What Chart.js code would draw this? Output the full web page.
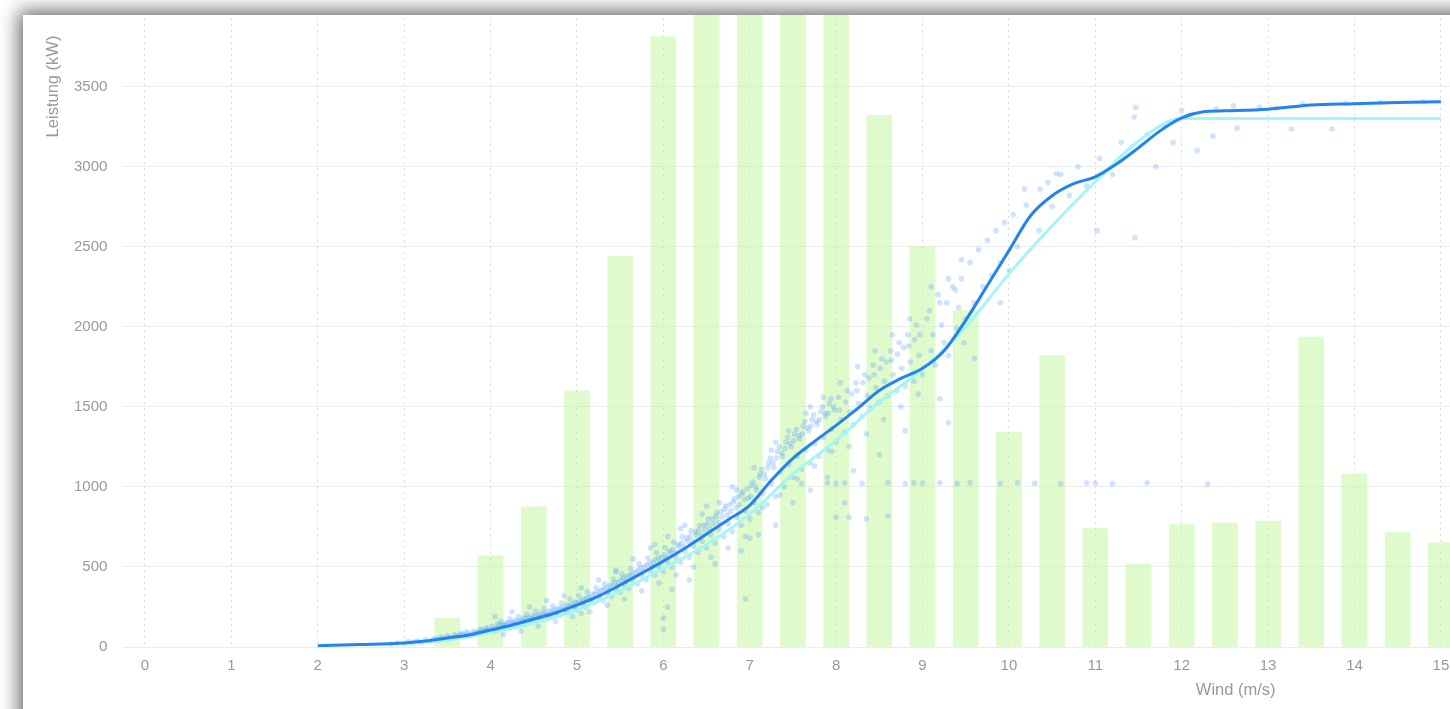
<!DOCTYPE html>
<html>
<head>
<meta charset="utf-8">
<script src="https://cdn.jsdelivr.net/npm/chart.js"></script>
<style>
  html, body { margin: 0; padding: 0; background: #fff; overflow: hidden; }
  body { width: 1450px; height: 709px; position: relative; }
  #card {
    position: absolute; left: 23px; top: 15px; width: 1500px; height: 760px;
    background: #fff; overflow: hidden;
    box-shadow: 0 0 18px 4px rgba(0,0,0,0.6);
  }
  #powerCurve { position: absolute; left: 0; top: -514px; }
</style>
</head>
<body>
<div id="card"><canvas id="powerCurve" width="2335" height="1213"></canvas></div>
<script>
// wind speed bins (m/s) and frequency bars
const barWind  = [3.5, 4, 4.5, 5, 5.5, 6, 6.5, 7, 7.5, 8, 8.5, 9, 9.5, 10, 10.5, 11, 11.5, 12, 12.5, 13, 13.5, 14, 14.5, 15];
const barValue = [180, 570, 875, 1600, 2440, 3810, 4700, 5600, 5200, 4400, 3320, 2500, 2100, 1340, 1820, 740, 520, 765, 775, 785, 1935, 1080, 715, 650];

// measured power curve (dark blue)
const curveWind  = [2, 2.5, 3, 3.25, 3.5, 3.75, 4, 4.25, 4.5, 4.75, 5, 5.25, 5.5, 5.75, 6, 6.25, 6.5, 6.75, 7, 7.25, 7.5, 7.75, 8, 8.25, 8.5, 8.75, 9, 9.25, 9.5, 9.75, 10, 10.25, 10.5, 10.75, 11, 11.25, 11.5, 11.75, 12, 12.25, 12.5, 13, 13.5, 14, 14.5, 15];
const curvePower = [8, 15, 25, 37, 56, 75, 106, 137, 175, 212, 262, 318, 387, 461, 536, 617, 705, 795, 885, 1041, 1178, 1284, 1384, 1490, 1602, 1677, 1740, 1850, 2040, 2257, 2475, 2693, 2818, 2893, 2936, 3017, 3117, 3223, 3304, 3342, 3348, 3358, 3385, 3393, 3400, 3404];

// reference power curve (cyan)
const refWind  = [3, 3.5, 4, 4.5, 5, 5.5, 6, 6.5, 7, 7.5, 8, 8.5, 9, 9.5, 10, 10.5, 11, 11.5, 12, 12.5, 13, 14, 15];
const refPower = [20, 45, 90, 150, 230, 350, 490, 640, 830, 1080, 1290, 1530, 1735, 2000, 2330, 2630, 2905, 3160, 3300, 3300, 3300, 3300, 3300];

// 10-minute samples [wind, power]
const samples = [
  [2.85,18],[2.92,24],[3.0,20],[3.05,32],[3.1,26],[3.15,38],[3.2,30],[3.25,45],[3.3,36],[3.35,52],[3.4,44],[3.42,60],[3.48,50],[3.5,70],[3.55,55],[3.58,78],[3.62,62],[3.66,85],[3.7,70],[3.72,95],[3.78,78],[3.8,100],[3.85,88],[3.88,112],[3.92,92],[3.95,120],[3.98,100],
  [4.02,130],[4.05,98],[4.08,145],[4.1,112],[4.12,160],[4.15,125],[4.18,150],[4.2,118],[4.22,175],[4.25,140],[4.28,165],[4.3,128],[4.32,190],[4.35,150],[4.38,180],[4.4,142],[4.42,205],[4.45,165],[4.48,195],[4.5,158],[4.52,225],[4.55,180],[4.58,210],[4.6,170],[4.62,240],[4.65,195],[4.68,225],[4.7,185],[4.72,255],[4.75,205],[4.78,240],[4.8,200],[4.82,275],[4.85,230],[4.88,262],[4.9,215],[4.92,300],[4.95,250],[4.98,280],
  [5.0,235],[5.02,320],[5.05,270],[5.08,300],[5.1,250],[5.12,345],[5.15,290],[5.18,330],[5.2,275],[5.22,370],[5.25,310],[5.28,355],[5.3,290],[5.32,395],[5.35,335],[5.38,380],[5.4,315],[5.42,425],[5.45,360],[5.48,405],[5.5,340],[5.52,455],[5.55,385],[5.58,440],[5.6,365],[5.62,490],[5.65,415],[5.68,470],[5.7,395],[5.72,520],[5.75,445],[5.78,500],[5.8,420],[5.82,555],[5.85,470],[5.88,530],[5.9,450],[5.92,590],[5.95,500],[5.98,560],
  [6.0,470],[6.02,620],[6.05,530],[6.08,590],[6.1,500],[6.12,655],[6.15,560],[6.18,625],[6.2,530],[6.22,690],[6.25,595],[6.28,660],[6.3,560],[6.32,725],[6.35,630],[6.38,700],[6.4,590],[6.42,760],[6.45,660],[6.48,735],[6.5,620],[6.52,800],[6.55,700],[6.58,770],[6.6,650],[6.62,840],[6.65,735],[6.68,810],[6.7,690],[6.72,880],[6.75,770],[6.78,850],[6.8,720],[6.82,925],[6.85,810],[6.88,890],[6.9,760],[6.92,970],[6.95,850],[6.98,930],
  [6.1,360],[6.3,420],[6.6,520],[6.9,600],[6.05,250],[6.95,300],[6.0,180],[6.0,110],
  [7.0,800],[7.02,1010],[7.05,900],[7.08,980],[7.1,840],[7.12,1080],[7.15,960],[7.18,1050],[7.2,890],[7.22,1150],[7.25,1020],[7.28,1120],[7.3,940],[7.32,1220],[7.35,1090],[7.38,1190],[7.4,1000],[7.42,1280],[7.45,1140],[7.48,1250],[7.5,1060],[7.52,1330],[7.55,1190],[7.58,1300],[7.6,1110],[7.62,1380],[7.65,1230],[7.68,1350],[7.7,1150],[7.72,1420],[7.75,1270],[7.78,1390],[7.8,1190],[7.82,1470],[7.85,1310],[7.88,1440],[7.9,1230],[7.92,1520],[7.95,1360],[7.98,1480],
  [7.1,700],[7.3,760],[7.5,900],[7.7,980],[7.9,1060],[7.6,1020],[7.0,680],
  [8.0,1280],[8.03,1560],[8.06,1420],[8.1,1340],[8.13,1600],[8.16,1470],[8.2,1390],[8.23,1650],[8.26,1520],[8.3,1440],[8.33,1700],[8.36,1570],[8.4,1490],[8.43,1760],[8.46,1620],[8.5,1530],[8.53,1800],[8.56,1660],[8.6,1570],[8.63,1850],[8.66,1700],[8.7,1600],[8.73,1900],[8.76,1740],[8.8,1630],[8.83,1950],[8.86,1780],[8.9,1660],[8.93,2010],[8.96,1820],
  [8.2,1100],[8.5,1200],[8.8,1350],[8.1,900],[8.6,820],[8.0,810],[8.15,810],[8.35,800],
  [9.0,1700],[9.05,2050],[9.1,1850],[9.15,1760],[9.2,2150],[9.25,1900],[9.3,1820],[9.35,2250],[9.4,1990],[9.45,2300],[9.5,2050],[9.55,2400],[9.6,2150],[9.65,2480],[9.7,2250],[9.75,2540],[9.8,2320],[9.85,2600],[9.9,2400],[9.95,2650],[10.0,2350],
  [9.2,1550],[9.6,1800],[9.9,2150],[9.3,1400],
  [10.05,2700],[10.1,2500],[10.18,2860],[10.2,2760],[10.36,2860],[10.35,2600],[10.45,2900],[10.5,2750],[10.55,2955],[10.6,2950],[10.7,2820],[10.8,3000],[10.9,2880],[11.02,2600],[11.05,3050],[11.2,2950],[11.3,3150],[11.47,3370],[11.45,3310],[11.46,2556],[11.6,3200],[11.7,3000],[11.8,3250],[11.9,3150],[12.0,3350],[12.18,3100],[12.36,3190],[12.4,3360],[12.64,3240],[12.6,3380],
  [12.9,3370],[13.27,3235],[13.4,3390],[13.74,3235],[13.9,3395],[14.3,3400],[14.8,3405],[13.1,3365],
  [7.9,1025],[8.0,1020],[8.1,1025],[8.3,1022],[8.6,1025],[8.8,1020],[8.9,1025],[9.0,1022],[9.2,1025],[9.4,1020],[9.55,1025],[9.9,1020],[10.1,1025],[10.3,1022],[10.6,1020],[10.9,1025],[11.0,1022],[11.2,1020],[11.6,1025],[12.3,1018],
  [3.32,40],[3.38,48],[3.45,58],[3.52,62],[3.6,68],[3.64,74],[3.68,80],[3.74,84],[3.76,70],[3.82,90],[3.86,96],[3.9,104],[3.94,108],[3.97,115],
  [4.03,112],[4.06,122],[4.11,135],[4.14,140],[4.17,138],[4.21,150],[4.24,155],[4.27,150],[4.31,160],[4.34,168],[4.37,162],[4.41,178],[4.44,182],[4.47,176],[4.51,190],[4.54,196],[4.57,188],[4.61,205],[4.64,212],[4.67,200],[4.71,222],[4.74,230],[4.77,218],[4.81,240],[4.84,250],[4.87,236],[4.91,258],[4.94,268],[4.97,255],
  [5.01,275],[5.04,290],[5.07,280],[5.11,305],[5.14,315],[5.17,300],[5.21,330],[5.24,345],[5.27,325],[5.31,360],[5.34,372],[5.37,350],[5.41,390],[5.44,402],[5.47,380],[5.51,420],[5.54,432],[5.57,410],[5.61,450],[5.64,462],[5.67,440],[5.71,480],[5.74,495],[5.77,470],[5.81,512],[5.84,525],[5.87,500],[5.91,545],[5.94,558],[5.97,530],
  [6.01,575],[6.04,560],[6.07,600],[6.11,610],[6.14,590],[6.17,640],[6.21,650],[6.24,625],[6.27,680],[6.31,690],[6.34,660],[6.37,720],[6.41,730],[6.44,700],[6.47,760],[6.51,770],[6.54,740],[6.57,800],[6.61,815],[6.64,780],[6.67,845],[6.71,860],[6.74,825],[6.77,890],[6.81,905],[6.84,870],[6.87,940],[6.91,955],[6.94,920],[6.97,990],
  [7.01,940],[7.04,1030],[7.07,1000],[7.11,1060],[7.14,1110],[7.17,1080],[7.21,1120],[7.24,1180],[7.27,1150],[7.31,1180],[7.34,1250],[7.37,1210],[7.41,1240],[7.44,1310],[7.47,1270],[7.51,1290],[7.54,1360],[7.57,1320],[7.61,1330],[7.64,1410],[7.67,1370],[7.71,1380],[7.74,1450],[7.77,1410],[7.81,1420],[7.84,1500],[7.87,1460],[7.91,1460],[7.94,1550],[7.97,1500],
  [8.04,1480],[8.11,1530],[8.18,1580],[8.24,1600],[8.31,1650],[8.38,1680],[8.44,1700],[8.51,1740],[8.58,1780],[8.64,1790],[8.71,1830],[8.78,1870],[8.84,1880],[8.91,1920],[8.97,1950],
  [9.08,2100],[9.18,2200],[9.28,2150],[9.38,2230],[9.12,1950],[9.22,2010],[9.42,2120],[9.48,1900],
  [4.05,190],[4.15,80],[4.25,220],[4.35,100],[4.45,250],[4.55,130],[4.65,290],[4.75,160],[4.85,320],[4.95,190],
  [5.05,370],[5.15,220],[5.25,420],[5.35,260],[5.45,480],[5.55,300],[5.65,550],[5.75,350],[5.85,620],[5.95,400],[5.05,210],[5.45,470],[5.9,640],
  [6.05,690],[6.15,450],[6.25,760],[6.35,500],[6.45,830],[6.55,560],[6.65,900],[6.75,620],[6.85,980],[6.95,690],[6.2,740],[6.5,880],[6.8,1000],
  [7.05,1120],[7.15,870],[7.25,1230],[7.35,950],[7.45,1350],[7.55,1050],[7.65,1460],[7.75,1130],[7.85,1560],[7.95,1220],[7.3,1280],[7.7,1500],
  [8.05,1650],[8.15,1250],[8.25,1750],[8.35,1330],[8.45,1850],[8.55,1420],[8.65,1950],[8.75,1500],[8.85,2050],[8.95,1580],[9.1,2250],[9.3,2300],[9.45,2420]
];

const xTicks = [0, 1, 2, 3, 4, 5, 6, 7, 8, 9, 10, 11, 12, 13, 14, 15, 16, 17, 18, 19, 20, 21, 22, 23, 24, 25];
const yTicks = [0, 500, 1000, 1500, 2000, 2500, 3000, 3500, 4000, 4500, 5000, 5500, 6000, 6500, 7000];

const labelColor = '#999';
const tickFont = { family: '"Liberation Sans", Arial, sans-serif', size: 15 };
const titleFont = { family: '"Liberation Sans", Arial, sans-serif', size: 16.5 };

const ctx = document.getElementById('powerCurve').getContext('2d');
new Chart(ctx, {
    type: 'bar',
    data: {
        datasets: [
            {
                type: 'line',
                data: curveWind.map((w, i) => ({ x: w, y: curvePower[i] })),
                borderColor: '#2283f3',
                borderWidth: 3,
                pointRadius: 0,
                cubicInterpolationMode: 'monotone',
                fill: false,
                order: 0
            },
            {
                type: 'line',
                data: refWind.map((w, i) => ({ x: w, y: refPower[i] })),
                borderColor: '#a4f6f6',
                borderWidth: 3,
                pointRadius: 0,
                cubicInterpolationMode: 'monotone',
                fill: false,
                order: 1
            },
            {
                type: 'scatter',
                data: samples.map(p => ({ x: p[0], y: p[1] })),
                backgroundColor: 'rgba(80,155,255,0.28)',
                borderWidth: 0,
                pointRadius: 2.8,
                order: 2
            },
            {
                type: 'bar',
                data: barWind.map((w, i) => ({ x: w, y: barValue[i] })),
                backgroundColor: 'rgba(196,246,160,0.55)',
                borderWidth: 0,
                barThickness: 25,
                order: 3
            }
        ]
    },
    options: {
        responsive: false,
        devicePixelRatio: 1,
        animation: false,
        layout: { padding: { left: 17, top: 10, right: 10, bottom: 10 } },
        plugins: { legend: { display: false }, tooltip: { enabled: false } },
        scales: {
            x: {
                type: 'linear',
                min: -0.25,
                max: 25.5,
                offset: false,
                afterBuildTicks: s => { s.ticks = xTicks.map(v => ({ value: v })); },
                afterFit: s => { s.height = 57; },
                grid: { color: '#d9d9d9', drawTicks: false, offset: false },
                border: { display: false, dash: [2, 4] },
                ticks: { color: labelColor, font: tickFont, padding: 10, maxRotation: 0, autoSkip: false, callback: v => String(v) },
                title: { display: true, text: 'Wind (m/s)', color: labelColor, font: titleFont }
            },
            y: {
                min: 0,
                max: 7000,
                afterBuildTicks: s => { s.ticks = yTicks.map(v => ({ value: v })); },
                afterFit: s => { s.width = 83.4; },
                grid: { color: '#ececec', drawTicks: false },
                border: { display: false },
                ticks: { color: labelColor, font: tickFont, padding: 16, callback: v => String(v) },
                title: { display: true, text: 'Leistung (kW)', color: labelColor, font: titleFont }
            }
        }
    }
});
</script>
</body>
</html>
